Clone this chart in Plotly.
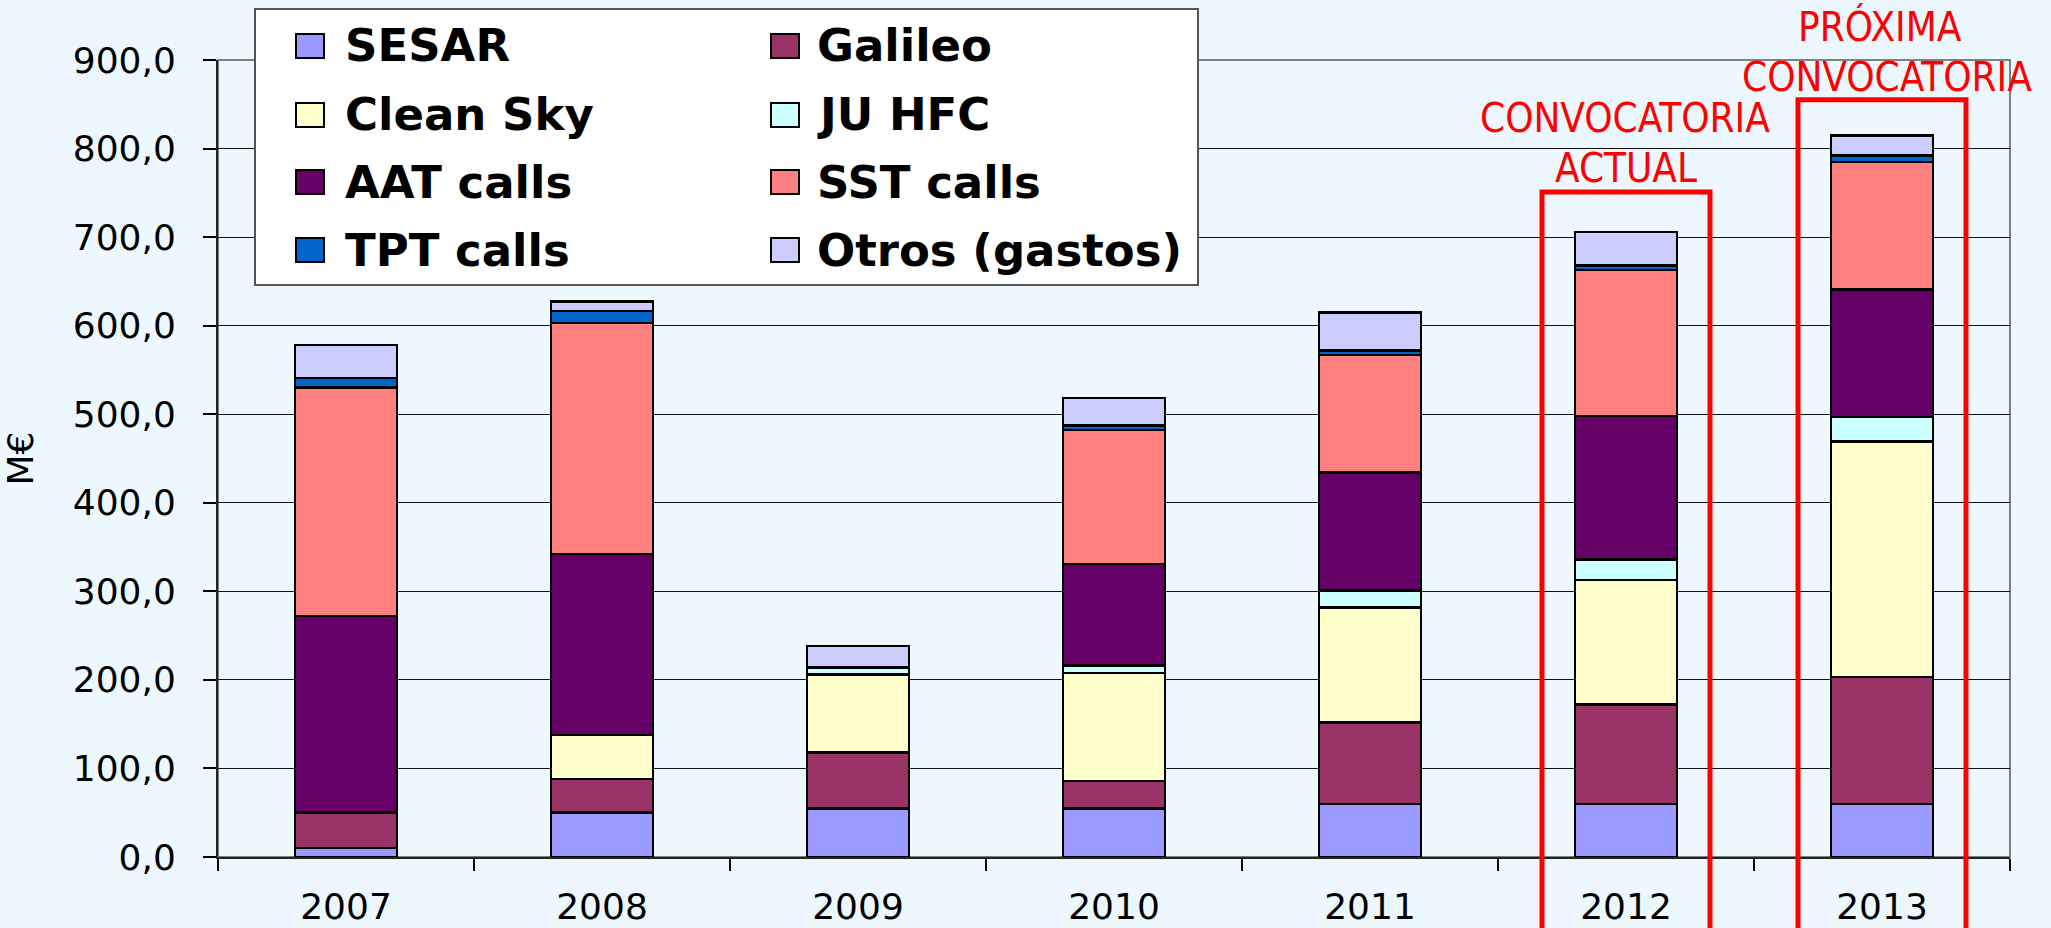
import plotly.graph_objects as go

years = ["2007", "2008", "2009", "2010", "2011", "2012", "2013"]
series_names = ["SESAR", "Galileo", "Clean Sky", "JU HFC", "AAT calls", "SST calls", "TPT calls", "Otros (gastos)"]
sesar = [10, 50, 55, 55, 60, 60, 60]
galileo = [40, 38, 63, 31, 92, 112, 143]
clean_sky = [0, 50, 88, 122, 130, 141, 266]
ju_hfc = [0, 0, 8, 8, 19, 23, 28]
aat_calls = [222, 204, 0, 115, 133, 162, 144]
sst_calls = [258, 261, 0, 151, 133, 165, 144]
tpt_calls = [11, 13.5, 0, 5.5, 5, 5, 7]
otros = [37, 11, 24, 31, 43, 38, 23]
y_ticks = [0, 100, 200, 300, 400, 500, 600, 700, 800, 900]

series_values = [sesar, galileo, clean_sky, ju_hfc, aat_calls, sst_calls, tpt_calls, otros]
colors = ["#9999FF", "#993366", "#FFFFCC", "#CCFFFF", "#660066", "#FF8080", "#0066CC", "#CCCCFF"]
BG = "#EDF7FE"

W, H = 2051, 928
L, R, T, B = 218, 41, 60, 71
PW, PH = W - L - R, H - T - B
YMAX = 900


def px(xp):
    return (xp - L) / PW


def py(yp):
    return (H - B - yp) / PH


fig = go.Figure()
for name, vals, col in zip(series_names, series_values, colors):
    fig.add_trace(go.Bar(
        x=years, y=vals, name=name, showlegend=False,
        marker=dict(color=col, line=dict(color="black", width=2.5)),
    ))

shapes = []
annotations = []

# plot area border (top/right gray)
shapes.append(dict(type="rect", xref="paper", yref="paper", x0=0, x1=1, y0=0, y1=1,
                   line=dict(color="#808080", width=2), layer="below"))

# legend box
shapes.append(dict(type="rect", xref="paper", yref="paper",
                   x0=px(255), x1=px(1198), y0=py(285), y1=py(9),
                   fillcolor="white", line=dict(color="#555555", width=2), layer="above"))
col_sq = [296, 771]
col_tx = [343, 815]
row_y = [46, 115, 182, 250]
for i, (name, col) in enumerate(zip(series_names, colors)):
    c = i % 2
    r = i // 2
    shapes.append(dict(type="rect", xref="paper", yref="paper",
                       x0=px(col_sq[c]), x1=px(col_sq[c] + 28),
                       y0=py(row_y[r] + 12), y1=py(row_y[r] - 12),
                       fillcolor=col, line=dict(color="black", width=2), layer="above"))
    annotations.append(dict(text=name, xref="paper", yref="paper",
                            x=px(col_tx[c]), y=py(row_y[r]), xanchor="left", yanchor="middle",
                            showarrow=False,
                            font=dict(family="DejaVu Sans", size=45, color="black", weight="bold")))

# red highlight boxes
n = len(years)
half_w = 84 / PW
box_tops = {"2012": 751, "2013": 855}
for yr, top in box_tops.items():
    i = years.index(yr)
    xc = (i + 0.5) / n
    shapes.append(dict(type="rect", xref="paper", yref="paper",
                       x0=xc - half_w, x1=xc + half_w, y0=py(H + 20), y1=top / YMAX,
                       line=dict(color="#FF0000", width=5), layer="above"))

red_font = dict(family="Liberation Sans Narrow, Arial Narrow, DejaVu Sans Condensed, sans-serif",
                size=40, color="#FF0000")
for txt, xc, yc in [("CONVOCATORIA", 1625, 118), ("ACTUAL", 1626, 168),
                    ("PRÓXIMA", 1880, 27), ("CONVOCATORIA", 1887, 77)]:
    annotations.append(dict(text=txt, xref="paper", yref="paper", x=px(xc), y=py(yc),
                            xanchor="center", yanchor="middle", showarrow=False, font=red_font))

fig.update_layout(
    width=W, height=H,
    margin=dict(l=L, r=R, t=T, b=B, autoexpand=False),
    barmode="stack", bargap=0.6,
    paper_bgcolor=BG, plot_bgcolor=BG,
    separators=",.",
    showlegend=False,
    shapes=shapes, annotations=annotations,
    font=dict(family="DejaVu Sans", color="black"),
)
fig.update_xaxes(
    type="category", tickson="boundaries", ticks="outside", ticklen=12, tickwidth=1.5,
    tickcolor="black", showline=True, linecolor="#222222", linewidth=2,
    tickfont=dict(family="DejaVu Sans", size=36, color="black"), ticklabelstandoff=17,
    showgrid=False, automargin=False,
)
fig.update_yaxes(
    range=[0, YMAX], tickvals=y_ticks, tickformat=".1f", ticks="outside", ticklen=13,
    tickwidth=1.5, tickcolor="black", showline=True, linecolor="#222222", linewidth=2,
    showgrid=True, gridcolor="#111111", gridwidth=1, zeroline=False,
    tickfont=dict(family="DejaVu Sans", size=36, color="black"), ticklabelstandoff=20,
    title=dict(text="M€", font=dict(family="DejaVu Sans", size=36, color="black"), standoff=30),
    automargin=False,
)

fig.write_html(
    "out.html",
    config={"displayModeBar": False},
    post_script="document.body.style.margin='0';document.body.style.overflow='hidden';"
                "document.body.style.background='" + BG + "';",
)
